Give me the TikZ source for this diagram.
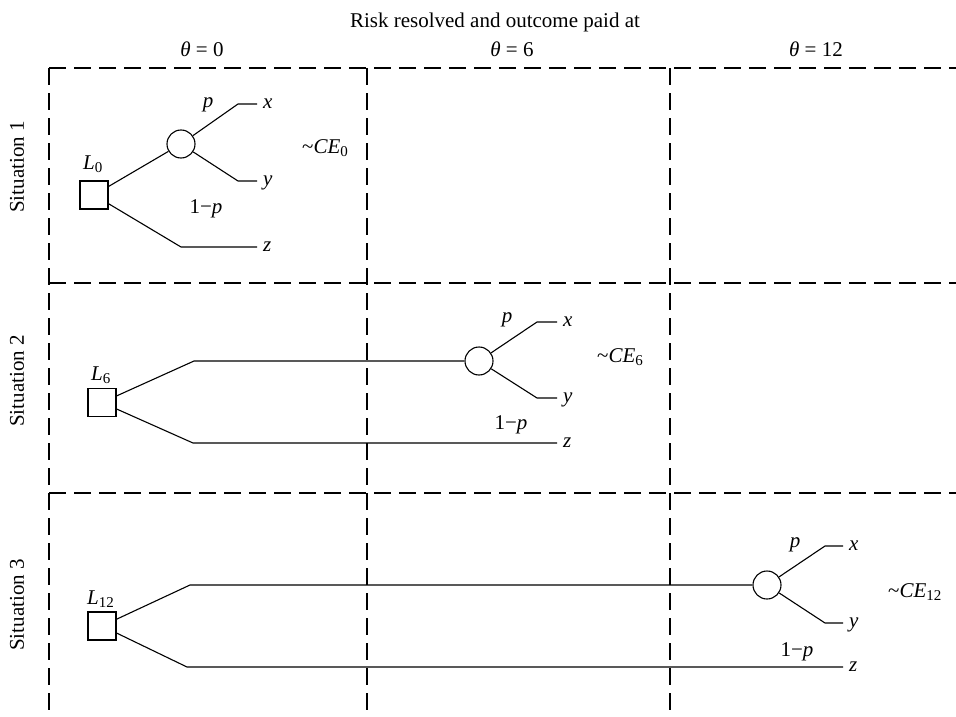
\documentclass[tikz,border=0pt]{standalone}
\usepackage{fontspec}
\setmainfont{Liberation Serif}
\newcommand\vv[1]{\textit{#1}}
\newcommand\lowsub[1]{\raisebox{-0.32ex}{\fontsize{15}{15}\selectfont #1}}
\begin{document}
\begin{tikzpicture}[x=1pt,y=-1pt,
  font=\fontsize{21}{25}\selectfont,
  grid/.style={line width=1.1pt, dash pattern=on 17pt off 8pt},
  branch/.style={line width=1.1pt},
  decision/.style={draw, rectangle, line width=1.1pt, minimum size=28pt, inner sep=0pt},
  chance/.style={draw, circle, line width=1.1pt, minimum size=28pt, inner sep=0pt},
  lbl/.style={inner sep=0pt},
  leaf/.style={anchor=base west, inner sep=0pt},
  sit/.style={rotate=90, inner sep=0pt}]
\useasboundingbox (0,0) rectangle (956,717);

% headings
\node[lbl, anchor=base] (head) at (495,27.5) {Risk resolved and outcome paid at};
\node[lbl, anchor=base] (t0) at (202,57) {\vv{θ} = 0};
\node[lbl, anchor=base] (t6) at (512,57) {\vv{θ} = 6};
\node[lbl, anchor=base] (t12) at (816,57) {\vv{θ} = 12};

% dashed grid
\coordinate (h1a) at (49,68);  \coordinate (h1b) at (956,68);
\coordinate (h2a) at (49,283); \coordinate (h2b) at (956,283);
\coordinate (h3a) at (49,493); \coordinate (h3b) at (956,493);
\coordinate (v1a) at (49,68);  \coordinate (v1b) at (49,717);
\coordinate (v2a) at (367,68); \coordinate (v2b) at (367,717);
\coordinate (v3a) at (670,68); \coordinate (v3b) at (670,717);
\draw[grid] (h1a) -- (h1b);
\draw[grid] (h2a) -- (h2b);
\draw[grid] (h3a) -- (h3b);
\draw[grid] (v1a) -- (v1b);
\draw[grid] (v2a) -- (v2b);
\draw[grid] (v3a) -- (v3b);

% row labels
\node[sit] (r1) at (17,167) {Situation 1};
\node[sit] (r2) at (17,381) {Situation 2};
\node[sit] (r3) at (17,605) {Situation 3};

% ---- Situation 1 ----
\node[decision] (s1) at (94,195) {};
\node[leaf] (L0) at (83,169) {\vv{L}\lowsub{0}};
\node[chance] (c1) at (181,144) {};
\coordinate (k1) at (238,104); \coordinate (x1) at (257,104);
\coordinate (m1) at (238,181); \coordinate (y1) at (257,181);
\coordinate (n1) at (181,247); \coordinate (z1) at (257,247);
\draw[branch] (s1) -- (c1);
\draw[branch] (c1) -- (k1) -- (x1);
\draw[branch] (c1) -- (m1) -- (y1);
\draw[branch] (s1) -- (n1) -- (z1);
\node[leaf] (lx1) at ([xshift=6pt,yshift=-4.8pt]x1) {\vv{x}};
\node[leaf] (ly1) at ([xshift=6pt,yshift=-4.8pt]y1) {\vv{y}};
\node[leaf] (lz1) at ([xshift=6pt,yshift=-4.8pt]z1) {\vv{z}};
\node[lbl] (p1) at (208,104.5) {\vv{p}};
\node[lbl] (q1) at (206,209) {1−\vv{p}};
\node[leaf] (ce0) at (302,153) {\textasciitilde\vv{CE}\lowsub{0}};

% ---- Situation 2 ----
\node[decision] (s2) at (102,402.5) {};
\node[leaf] (L6) at (91,380) {\vv{L}\lowsub{6}};
\coordinate (a2) at (194,361);
\node[chance] (c2) at (479,361) {};
\coordinate (k2) at (537,322); \coordinate (x2) at (557,322);
\coordinate (m2) at (537,398); \coordinate (y2) at (557,398);
\coordinate (n2) at (193,443); \coordinate (z2) at (557,443);
\draw[branch] (s2) -- (a2) -- (c2);
\draw[branch] (c2) -- (k2) -- (x2);
\draw[branch] (c2) -- (m2) -- (y2);
\draw[branch] (s2) -- (n2) -- (z2);
\node[leaf] (lx2) at ([xshift=6pt,yshift=-4.8pt]x2) {\vv{x}};
\node[leaf] (ly2) at ([xshift=6pt,yshift=-4.8pt]y2) {\vv{y}};
\node[leaf] (lz2) at ([xshift=6pt,yshift=-4.8pt]z2) {\vv{z}};
\node[lbl] (p2) at (507,320) {\vv{p}};
\node[lbl] (q2) at (511,425) {1−\vv{p}};
\node[leaf] (ce6) at (597,362) {\textasciitilde\vv{CE}\lowsub{6}};

% ---- Situation 3 ----
\node[decision] (s3) at (102,626) {};
\node[leaf] (L12) at (87,604) {\vv{L}\lowsub{12}};
\coordinate (a3) at (190,585);
\node[chance] (c3) at (767,585) {};
\coordinate (k3) at (825,546); \coordinate (x3) at (843,546);
\coordinate (m3) at (825,623); \coordinate (y3) at (843,623);
\coordinate (n3) at (187,667); \coordinate (z3) at (843,667);
\draw[branch] (s3) -- (a3) -- (c3);
\draw[branch] (c3) -- (k3) -- (x3);
\draw[branch] (c3) -- (m3) -- (y3);
\draw[branch] (s3) -- (n3) -- (z3);
\node[leaf] (lx3) at ([xshift=6pt,yshift=-4.8pt]x3) {\vv{x}};
\node[leaf] (ly3) at ([xshift=6pt,yshift=-4.8pt]y3) {\vv{y}};
\node[leaf] (lz3) at ([xshift=6pt,yshift=-4.8pt]z3) {\vv{z}};
\node[lbl] (p3) at (795,545) {\vv{p}};
\node[lbl] (q3) at (797,652) {1−\vv{p}};
\node[leaf] (ce12) at (888,597) {\textasciitilde\vv{CE}\lowsub{12}};
\end{tikzpicture}
\end{document}
